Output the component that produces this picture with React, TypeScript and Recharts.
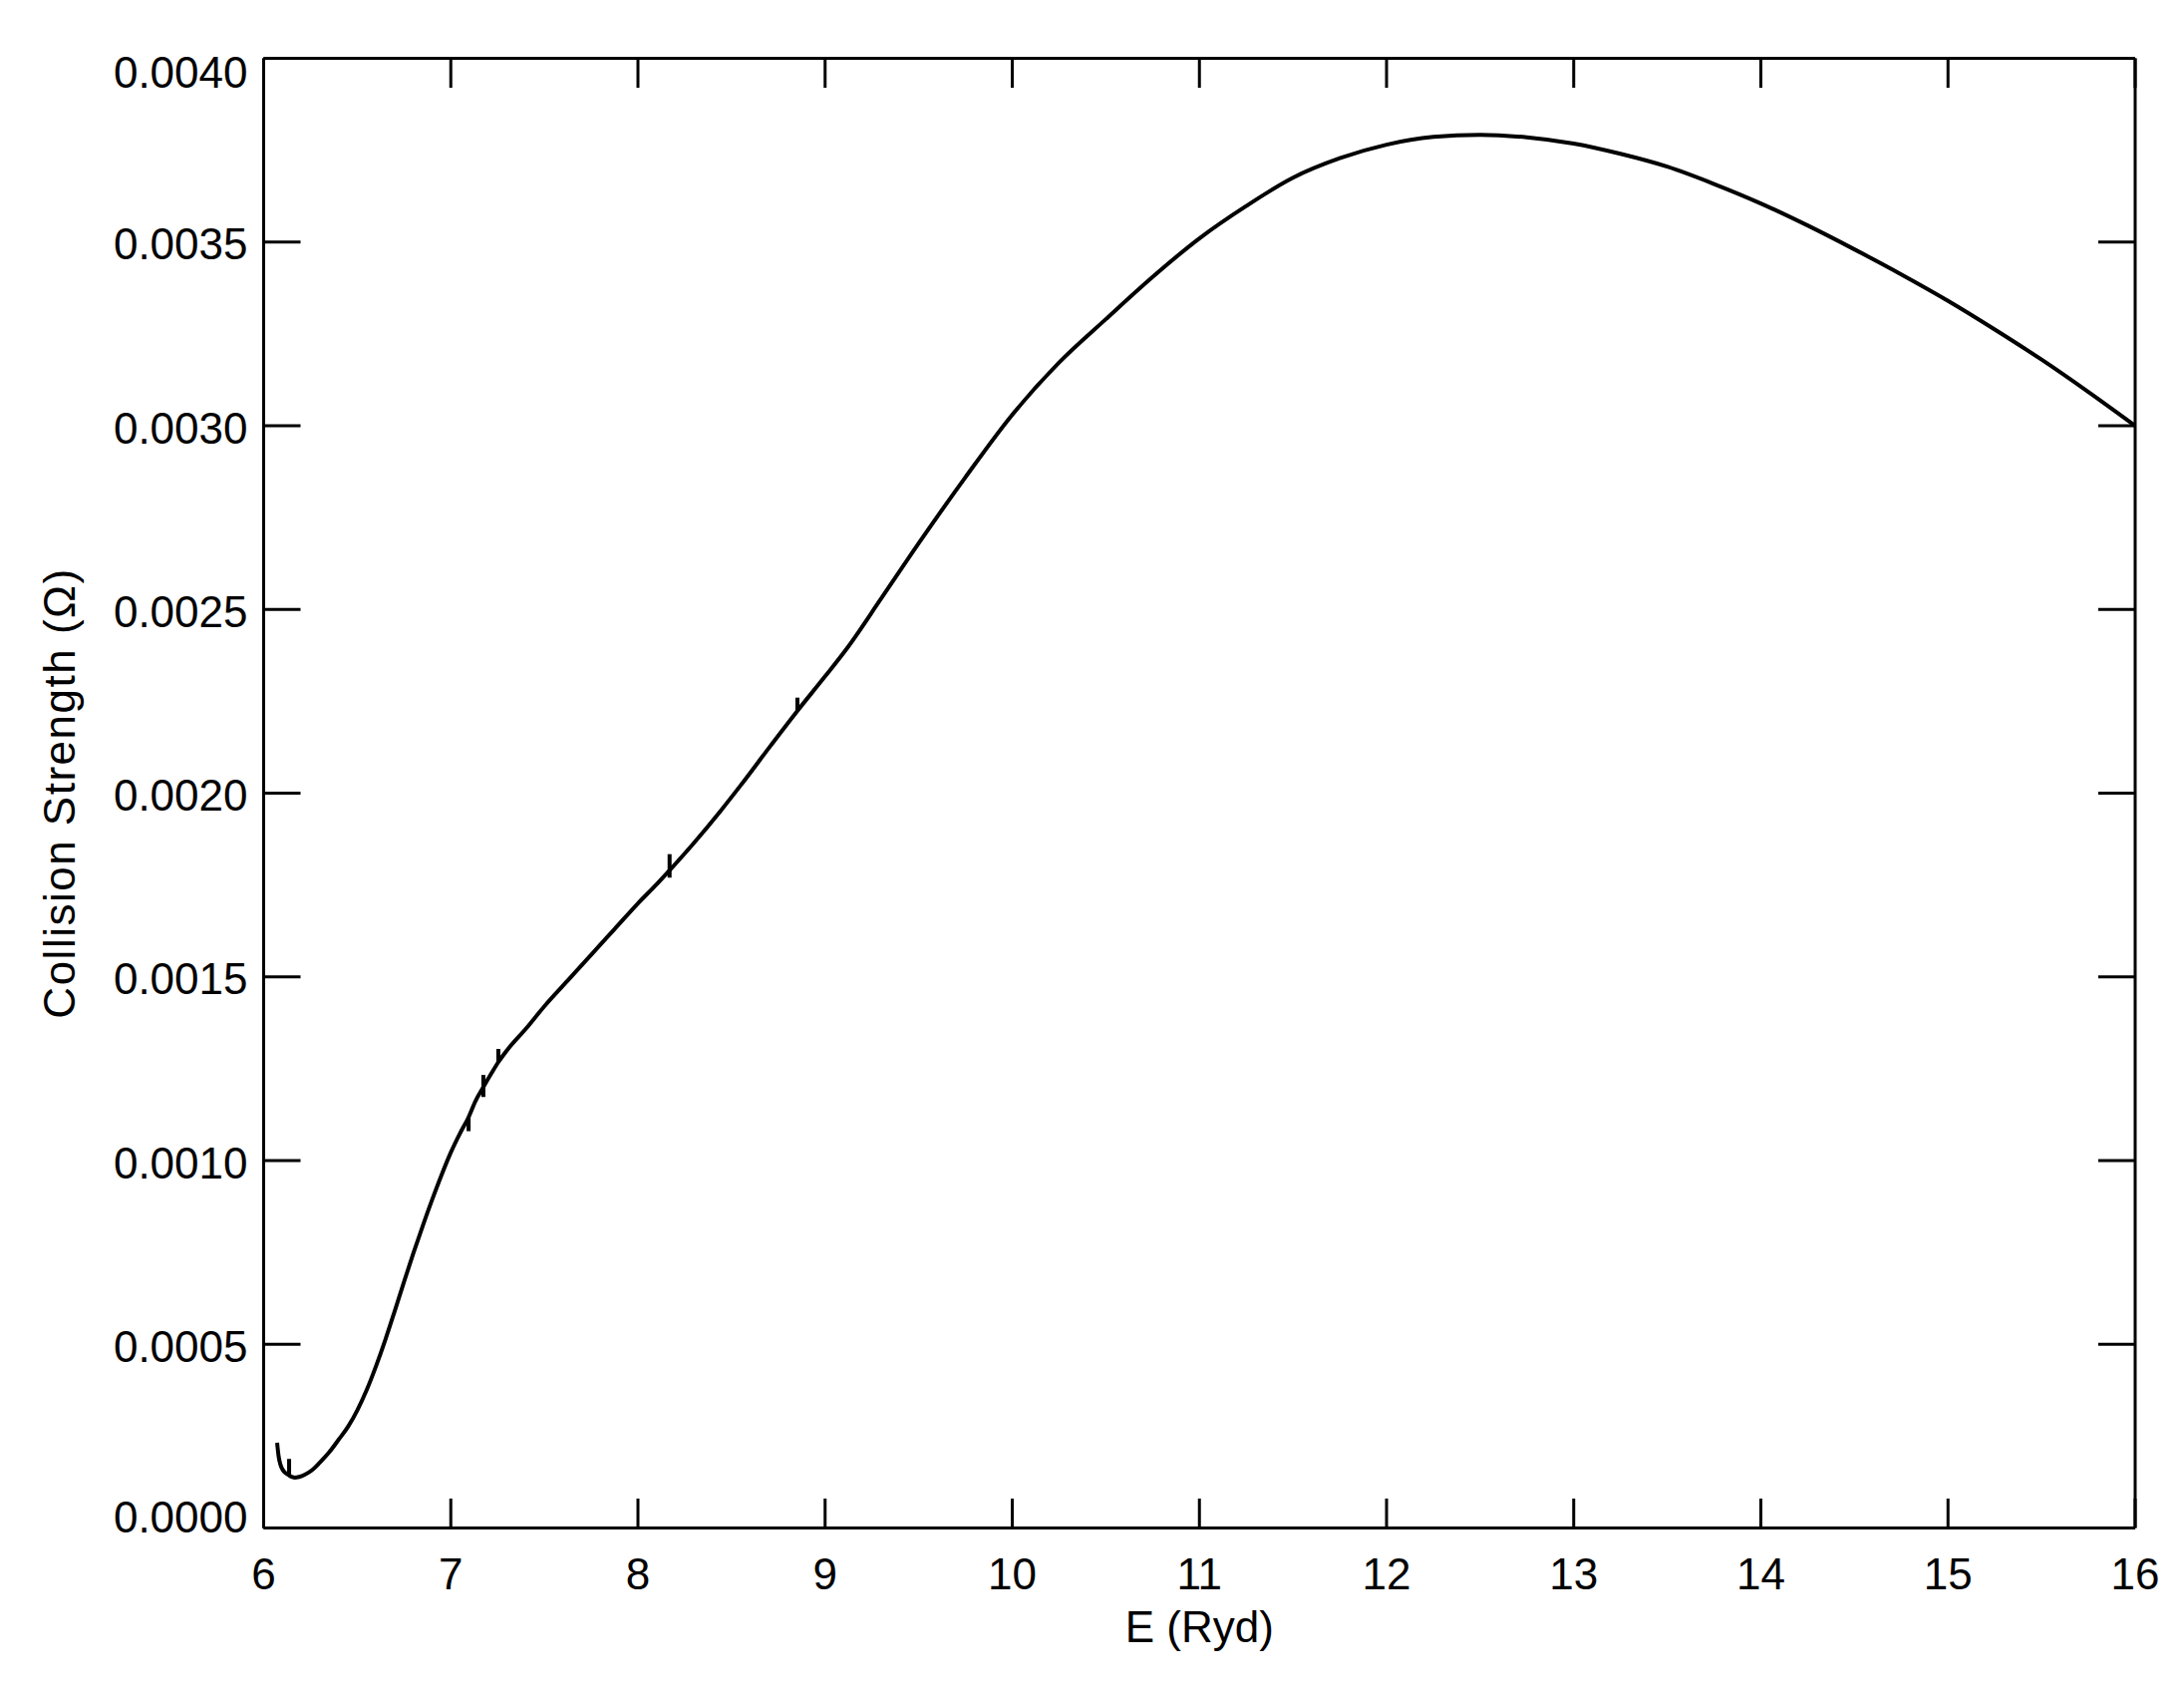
import React from 'react';
import { LineChart, Line, XAxis, YAxis, ReferenceLine } from 'recharts';

const energy = [
  6.072, 6.08, 6.09, 6.1, 6.11, 6.125, 6.14, 6.152, 6.165, 6.19, 6.22, 6.26, 6.3,
  6.35, 6.4, 6.45, 6.5, 6.55, 6.6, 6.65, 6.7, 6.75, 6.8, 6.85, 6.9, 6.95, 7.0, 7.05,
  7.095, 7.13, 7.174, 7.22, 7.254, 7.3, 7.4, 7.5, 7.625, 7.75, 7.875, 8.0, 8.1, 8.169,
  8.3, 8.442, 8.55, 8.71, 8.852, 9.0, 9.118, 9.3, 9.5, 9.75, 10.0, 10.25, 10.5, 10.75,
  11.0, 11.25, 11.5, 11.75, 12.0, 12.25, 12.5, 12.75, 13.0, 13.25, 13.5, 13.75, 14.0,
  14.25, 14.5, 14.75, 15.0, 15.25, 15.5, 15.75, 16.0,
];

const omega = [
  0.000232, 0.000195, 0.000172, 0.00016, 0.000153, 0.000147, 0.000142, 0.000139, 0.000137,
  0.000139, 0.000145, 0.000158, 0.000178, 0.000206, 0.00024, 0.000275, 0.00032, 0.000375,
  0.00044, 0.000512, 0.00059, 0.00067, 0.000748, 0.000822, 0.000893, 0.00096, 0.001022,
  0.001075, 0.001118, 0.00116, 0.0012, 0.00124, 0.001268, 0.0013, 0.001358, 0.00142, 0.00149,
  0.00156, 0.00163, 0.0017, 0.001752, 0.00179, 0.001865, 0.001952, 0.002022, 0.00213, 0.002224,
  0.002318, 0.002395, 0.00253, 0.00268, 0.00286, 0.00303, 0.003172, 0.00329, 0.003405, 0.00351,
  0.003598, 0.003675, 0.003728, 0.003765, 0.003786, 0.003792, 0.003785, 0.003768, 0.00374,
  0.003705, 0.003658, 0.003605, 0.003545, 0.00348, 0.003412, 0.00334, 0.003262, 0.00318,
  0.003092, 0.003,
];

// narrow resonance features drawn as short vertical strokes
const spikeE = [6.136, 7.095, 7.174, 7.254, 8.169, 8.852];
const spikeLo = [0.000143, 0.00108, 0.001173, 0.001268, 0.00177, 0.002224];
const spikeHi = [0.000188, 0.00112, 0.001233, 0.001304, 0.001834, 0.00226];

const xTicks = [6, 7, 8, 9, 10, 11, 12, 13, 14, 15, 16];
const yTicks = [0, 0.0005, 0.001, 0.0015, 0.002, 0.0025, 0.003, 0.0035, 0.004];
const yTickLabels = ['0.0000', '0.0005', '0.0010', '0.0015', '0.0020', '0.0025', '0.0030', '0.0035', '0.0040'];
const xTitle = 'E (Ryd)';
const yTitle = 'Collision Strength (\u03A9)';

const data = energy.map((e, i) => ({ e, o: omega[i] }));

const FONT = '"Liberation Sans", Arial, Helvetica, sans-serif';
const FS = 44;

const XTick = (props: any) => {
  const { x, y, payload } = props;
  return (
    <text x={x} y={y + 61.5} textAnchor="middle" fontFamily={FONT} fontSize={FS} fill="#000">
      {String(payload.value)}
    </text>
  );
};

const YTick = (props: any) => {
  const { x, y, payload } = props;
  const v = payload.value;
  const idx = yTicks.indexOf(v);
  let dy = 17.5;
  if (idx === yTicks.length - 1) dy = 29;
  else if (idx === 0) dy = 4;
  return (
    <text x={x - 16} y={y + dy} textAnchor="end" fontFamily={FONT} fontSize={FS} fill="#000">
      {idx >= 0 ? yTickLabels[idx] : String(v)}
    </text>
  );
};

const NoTick = () => <g />;

const XTitle = (props: any) => {
  const vb = props.viewBox || { x: 0, y: 0, width: 0 };
  return (
    <text x={vb.x + vb.width / 2} y={vb.y + 114.5} textAnchor="middle" fontFamily={FONT} fontSize={FS} fill="#000">
      {xTitle}
    </text>
  );
};

const YTitle = (props: any) => {
  const vb = props.viewBox || { x: 0, y: 0, height: 0 };
  const cx = vb.x + 67;
  const cy = vb.y + vb.height / 2;
  return (
    <text
      x={cx}
      y={cy}
      transform={`rotate(-90, ${cx}, ${cy})`}
      textAnchor="middle"
      fontFamily={FONT}
      fontSize={FS}
      letterSpacing={1.5}
      fill="#000"
    >
      {yTitle}
    </text>
  );
};

const axisStyle = { stroke: '#000', strokeWidth: 3 };

export default function App() {
  return (
    <div style={{ width: 2175, height: 1682, background: '#fff' }}>
      <LineChart
        width={2175}
        height={1682}
        data={data}
        margin={{ top: 49.5, right: 40, bottom: 37.5, left: 0 }}
      >
        <XAxis
          xAxisId="b"
          dataKey="e"
          type="number"
          domain={[6, 16]}
          allowDataOverflow
          ticks={xTicks}
          interval={0}
          height={120}
          tickSize={-29.5}
          tickMargin={29.5}
          axisLine={axisStyle}
          tickLine={axisStyle}
          tick={XTick}
          label={XTitle}
        />
        <XAxis
          xAxisId="t"
          orientation="top"
          dataKey="e"
          type="number"
          domain={[6, 16]}
          allowDataOverflow
          ticks={xTicks}
          interval={0}
          height={1}
          tickSize={-29.5}
          axisLine={axisStyle}
          tickLine={axisStyle}
          tick={NoTick}
        />
        <YAxis
          yAxisId="l"
          type="number"
          domain={[0, 0.004]}
          allowDataOverflow
          ticks={yTicks}
          interval={0}
          width={256.5}
          tickSize={-37}
          tickMargin={37}
          axisLine={axisStyle}
          tickLine={axisStyle}
          tick={YTick}
          label={YTitle}
        />
        <YAxis
          yAxisId="r"
          orientation="right"
          type="number"
          domain={[0, 0.004]}
          allowDataOverflow
          ticks={yTicks}
          interval={0}
          width={1}
          tickSize={-37}
          axisLine={axisStyle}
          tickLine={axisStyle}
          tick={NoTick}
        />
        <Line
          xAxisId="b"
          yAxisId="l"
          type="monotone"
          dataKey="o"
          stroke="#000"
          strokeWidth={4}
          dot={false}
          isAnimationActive={false}
        />
        {spikeE.map((e, i) => (
          <ReferenceLine
            key={`sp${i}`}
            xAxisId="b"
            yAxisId="l"
            segment={[
              { x: e, y: spikeLo[i] },
              { x: e, y: spikeHi[i] },
            ]}
            stroke="#000"
            strokeWidth={4}
            ifOverflow="visible"
          />
        ))}
      </LineChart>
    </div>
  );
}
